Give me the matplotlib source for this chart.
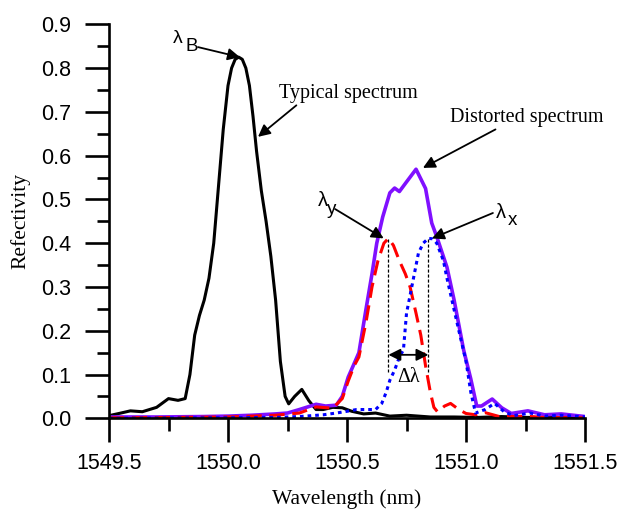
import matplotlib
matplotlib.use("Agg")
import matplotlib.pyplot as plt
import numpy as np

# typical spectrum (black)
typ_x = [1549.50, 1549.55, 1549.59, 1549.64, 1549.70, 1549.75, 1549.79, 1549.82, 1549.84, 1549.86,
         1549.88, 1549.90, 1549.92, 1549.94, 1549.96, 1549.98, 1550.00, 1550.015, 1550.03, 1550.045,
         1550.06, 1550.075, 1550.09, 1550.105, 1550.12, 1550.14, 1550.16, 1550.18, 1550.20, 1550.22,
         1550.24, 1550.255, 1550.28, 1550.31, 1550.34, 1550.37, 1550.40, 1550.44, 1550.48, 1550.52,
         1550.57, 1550.62, 1550.68, 1550.75, 1550.85, 1550.95, 1551.05, 1551.15, 1551.25, 1551.35,
         1551.50]
typ_y = [0.006, 0.012, 0.017, 0.015, 0.025, 0.045, 0.041, 0.045, 0.10, 0.19,
         0.235, 0.27, 0.32, 0.40, 0.53, 0.66, 0.76, 0.80, 0.82, 0.825,
         0.82, 0.80, 0.76, 0.69, 0.61, 0.52, 0.45, 0.37, 0.27, 0.13,
         0.05, 0.033, 0.05, 0.066, 0.04, 0.02, 0.02, 0.025, 0.024, 0.016,
         0.01, 0.012, 0.005, 0.007, 0.003, 0.003, 0.002, 0.004, 0.002, 0.002,
         0.001]

# distorted spectrum (violet)
dis_x = [1549.5, 1549.7, 1549.9, 1550.0, 1550.1, 1550.2, 1550.25, 1550.3, 1550.37, 1550.41, 1550.455,
         1550.48, 1550.505, 1550.53, 1550.55, 1550.58, 1550.605, 1550.625, 1550.65, 1550.68, 1550.70,
         1550.72, 1550.75, 1550.79, 1550.83, 1550.856, 1550.877, 1550.92, 1550.95, 1550.99, 1551.02,
         1551.045, 1551.065, 1551.11, 1551.15, 1551.19, 1551.26, 1551.33, 1551.40, 1551.5]
dis_y = [0.003, 0.003, 0.004, 0.005, 0.007, 0.01, 0.012, 0.02, 0.032, 0.028, 0.03,
         0.05, 0.094, 0.125, 0.15, 0.25, 0.33, 0.40, 0.46, 0.515, 0.526,
         0.518, 0.54, 0.569, 0.525, 0.446, 0.415, 0.345, 0.27, 0.156, 0.09,
         0.028, 0.028, 0.044, 0.024, 0.011, 0.017, 0.008, 0.01, 0.004]

# y-polarisation (red dashed)
pol_y_x = [1549.5, 1549.8, 1550.0, 1550.2, 1550.3, 1550.37, 1550.44, 1550.48, 1550.505, 1550.53,
           1550.55, 1550.58, 1550.605, 1550.63, 1550.655, 1550.674, 1550.695, 1550.72, 1550.745, 1550.765,
           1550.79, 1550.81, 1550.83, 1550.85, 1550.865, 1550.88, 1550.91, 1550.935, 1550.97, 1551.0,
           1551.04, 1551.08, 1551.14, 1551.2, 1551.25, 1551.32, 1551.5]
pol_y_y = [0.001, 0.002, 0.003, 0.007, 0.012, 0.026, 0.023, 0.045, 0.085, 0.12,
           0.14, 0.22, 0.30, 0.36, 0.40, 0.411, 0.395, 0.36, 0.33, 0.30,
           0.24, 0.19, 0.12, 0.06, 0.025, 0.015, 0.028, 0.034, 0.02, 0.011,
           0.008, 0.013, 0.004, 0.004, 0.005, 0.002, 0.001]

# x-polarisation (blue dotted)
pol_x_x = [1549.5, 1549.9, 1550.2, 1550.3, 1550.4, 1550.455, 1550.50, 1550.54, 1550.62, 1550.646,
           1550.665, 1550.68, 1550.70, 1550.72, 1550.737, 1550.75, 1550.772, 1550.80, 1550.82, 1550.842,
           1550.86, 1550.877, 1550.905, 1550.92, 1550.947, 1550.97, 1551.0, 1551.02, 1551.04, 1551.08,
           1551.12, 1551.16, 1551.2, 1551.27, 1551.33, 1551.4, 1551.5]
pol_x_y = [0.0, 0.001, 0.002, 0.004, 0.008, 0.012, 0.016, 0.02, 0.02, 0.034,
           0.06, 0.087, 0.11, 0.14, 0.156, 0.24, 0.30, 0.377, 0.40, 0.411,
           0.41, 0.40, 0.36, 0.32, 0.255, 0.20, 0.13, 0.06, 0.012, 0.02,
           0.034, 0.015, 0.006, 0.012, 0.005, 0.007, 0.003]

xticks = [1549.5, 1550.0, 1550.5, 1551.0, 1551.5]
yticks = [0.0, 0.1, 0.2, 0.3, 0.4, 0.5, 0.6, 0.7, 0.8, 0.9]

sans = 'Liberation Sans'
serif = 'Liberation Serif'

fig = plt.figure(figsize=(6.19, 5.09), dpi=100)
ax = fig.add_axes([0.1761, 0.1782, 0.769, 0.774])

ax.plot(typ_x, typ_y, color='black', lw=2.2)
ax.plot(dis_x, dis_y, color='#8010FF', lw=2.6)
ax.plot(pol_y_x, pol_y_y, color='#FF0000', lw=2.2, dashes=(5, 2.5))
ax.plot(pol_x_x, pol_x_y, color='#0000FF', lw=2.2, dashes=(1.2, 1.3))

ax.set_xlim(1549.5, 1551.5)
ax.set_ylim(0, 0.9)
ax.set_xticks(xticks)
ax.set_xticklabels(['%.1f' % v for v in xticks])
ax.set_yticks(yticks)
ax.set_yticklabels(['%.1f' % v for v in yticks])
ax.set_xticks(np.arange(1549.75, 1551.5, 0.5), minor=True)
ax.set_yticks(np.arange(0.05, 0.9, 0.1), minor=True)

for s in ['top', 'right']:
    ax.spines[s].set_visible(False)
for s in ['left', 'bottom']:
    ax.spines[s].set_linewidth(1.9)
ax.tick_params(which='major', direction='out', length=17, width=1.9)
ax.tick_params(which='minor', direction='out', length=9, width=1.9)
ax.tick_params(axis='x', which='major', pad=8, labelsize=15.5)
ax.tick_params(axis='y', which='major', pad=10, labelsize=15.5)
for lab in ax.get_xticklabels() + ax.get_yticklabels():
    lab.set_family(sans)

ax.set_xlabel('Wavelength (nm)', family=serif, fontsize=15.5, labelpad=11)
ax.set_ylabel('Refectivity', family=serif, fontsize=15.5, labelpad=8)

arrow = dict(arrowstyle='-|>', mutation_scale=18, lw=1.3, color='black',
             shrinkA=0, shrinkB=0)

# lambda_B at peak of typical spectrum
i_pk = int(np.argmax(typ_y))
ax.annotate('', xy=(typ_x[i_pk] + 0.005, typ_y[i_pk]), xytext=(1549.874, 0.848),
            arrowprops=arrow)
ax.text(1549.79, 0.868, 'λ', family=sans, fontsize=14, ha='center', va='center')
ax.text(1549.847, 0.849, 'B', family=sans, fontsize=13.5, ha='center', va='center')

ax.annotate('Typical spectrum', xy=(1550.126, 0.643), xytext=(1550.214, 0.743),
            family=serif, fontsize=14.5, va='center', ha='left',
            arrowprops=dict(arrow, relpos=(0.15, 0.0)))

ax.annotate('Distorted spectrum', xy=(1550.819, 0.572), xytext=(1550.933, 0.688),
            family=serif, fontsize=14.5, va='center', ha='left',
            arrowprops=dict(arrow, relpos=(0.33, 0.0)))

# lambda_y
i_y = int(np.argmax(pol_y_y))
ax.annotate('', xy=(pol_y_x[i_y] - 0.02, pol_y_y[i_y]), xytext=(1550.45, 0.478),
            arrowprops=arrow)
ax.text(1550.399, 0.498, 'λ', family=sans, fontsize=14.5, ha='center', va='center')
ax.text(1550.435, 0.476, 'y', family=sans, fontsize=13.5, ha='center', va='center')

# lambda_x
i_x = int(np.argmax(pol_x_y))
ax.annotate('', xy=(pol_x_x[i_x] + 0.015, pol_x_y[i_x]), xytext=(1551.113, 0.469),
            arrowprops=arrow)
ax.text(1551.147, 0.469, 'λ', family=sans, fontsize=14.5, ha='center', va='center')
ax.text(1551.195, 0.451, 'x', family=sans, fontsize=13.5, ha='center', va='center')

# delta lambda marker
for xv in (pol_y_x[i_y], pol_x_x[i_x]):
    ax.plot([xv, xv], [0.41, 0.105], color='black', lw=0.9, dashes=(2.5, 1.5))
ax.annotate('', xy=(pol_y_x[i_y], 0.145), xytext=(pol_x_x[i_x], 0.145),
            arrowprops=dict(arrowstyle='<|-|>', mutation_scale=18, lw=1.3,
                            color='black', shrinkA=0, shrinkB=0))
ax.text((pol_y_x[i_y] + pol_x_x[i_x]) / 2, 0.093, 'Δλ', family=serif,
        fontsize=14.5, ha='center', va='center')

fig.savefig('out.png', dpi=100)
